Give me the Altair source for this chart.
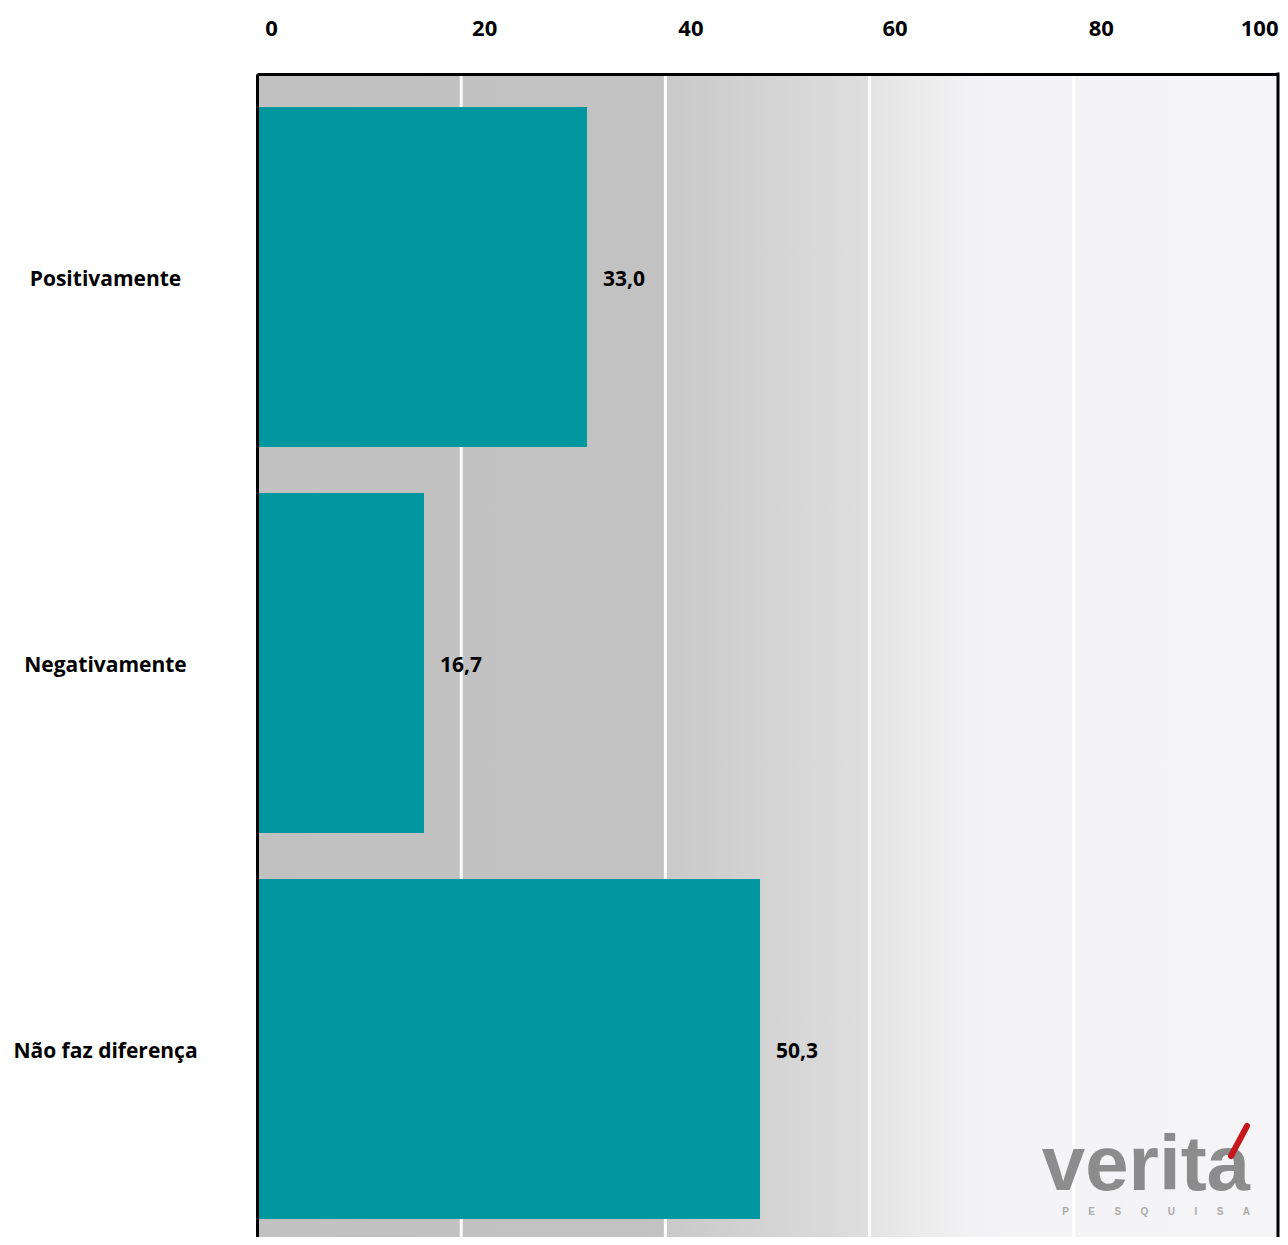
import altair as alt
import pandas as pd

categories = ["Positivamente", "Negativamente", "Não faz diferença"]
values = [33.0, 16.7, 50.3]
tick_values = [0, 20, 40, 60, 80, 100]
grid_values = [20, 40, 60, 80]

W = 1021
H = 1163
FONT = "Open Sans"

bars_df = pd.DataFrame({
    "cat": categories,
    "value": values,
    "label": [f"{v:.1f}".replace(".", ",") for v in values],
})
grid_df = pd.DataFrame({"g": grid_values})
one = pd.DataFrame({"a": [0]})

bg = alt.Chart(one).mark_rect(
    color=alt.Gradient(
        gradient="linear",
        x1=0, x2=1, y1=0, y2=0,
        stops=[
            alt.GradientStop(offset=0.0, color="#c1c1c1"),
            alt.GradientStop(offset=0.399, color="#c2c2c2"),
            alt.GradientStop(offset=0.401, color="#c9c9c9"),
            alt.GradientStop(offset=0.599, color="#dedede"),
            alt.GradientStop(offset=0.601, color="#e4e4e4"),
            alt.GradientStop(offset=0.70, color="#f2f2f4"),
            alt.GradientStop(offset=0.75, color="#f4f4f6"),
            alt.GradientStop(offset=1.0, color="#f5f5f7"),
        ],
    )
).encode(x=alt.value(0), x2=alt.value(W), y=alt.value(0), y2=alt.value(H))

grid = alt.Chart(grid_df).mark_rule(color="white", strokeWidth=3).encode(
    x=alt.X(
        "g:Q",
        scale=alt.Scale(domain=[0, 100], nice=False, zero=True),
        axis=alt.Axis(
            orient="top",
            values=tick_values,
            title=None,
            grid=False,
            ticks=False,
            tickSize=0,
            domain=True,
            domainColor="black",
            domainWidth=3,
            labelFont=FONT,
            labelFontSize=22,
            labelFontWeight="bold",
            labelColor="black",
            labelPadding=39,
            labelBaseline="alphabetic",
            labelFlush=False,
            labelAlign={"condition": {"test": "datum.value == 100", "value": "right"}, "value": "center"},
            labelOffset={"condition": [
                {"test": "datum.value == 0", "value": 14},
                {"test": "datum.value == 20", "value": 23},
                {"test": "datum.value == 80", "value": 27},
                {"test": "datum.value == 100", "value": 0},
            ], "value": 25},
            zindex=1,
        ),
    ),
    y=alt.value(0),
    y2=alt.value(H),
)

yenc = alt.Y(
    "cat:N",
    sort=categories,
    scale=alt.Scale(paddingInner=0.119, paddingOuter=0.066, align=0.647),
    axis=alt.Axis(
        title=None,
        ticks=False,
        domain=True,
        domainColor="black",
        domainWidth=3,
        labelFont=FONT,
        labelFontSize=21,
        labelFontWeight="bold",
        labelColor="black",
        labelAlign="center",
        labelBaseline="middle",
        labelPadding=152,
        labelOffset=3,
        labelLimit=400,
        zindex=1,
    ),
)

xbar = alt.X("value:Q", scale=alt.Scale(domain=[0, 102.1], nice=False), axis=None)

bars = alt.Chart(bars_df).mark_bar(color="#00989e").encode(
    x=xbar,
    y=yenc,
)

labels = alt.Chart(bars_df).mark_text(
    align="left", baseline="middle", dx=16, dy=3,
    font=FONT, fontSize=21, fontWeight="bold", color="black",
).encode(
    x=xbar,
    y=alt.Y("cat:N", sort=categories),
    text="label:N",
)

right_border = alt.Chart(one).mark_rule(color="black", strokeWidth=3).encode(
    x=alt.value(W), y=alt.value(-1.5), y2=alt.value(H)
)

logo = alt.Chart(one).mark_text(
    text="verita", align="right", baseline="alphabetic",
    font="Liberation Sans", fontSize=78, fontWeight="bold", color="#8c8c8c",
).encode(x=alt.value(993), y=alt.value(1116))

logo_accent = alt.Chart(one).mark_rule(color="#c8161d", strokeWidth=6, strokeCap="round").encode(
    x=alt.value(974), x2=alt.value(990), y=alt.value(1082), y2=alt.value(1052)
)

NB = "\u00a0" * 7
logo_sub = alt.Chart(one).mark_text(
    text=NB.join(list("PESQUISA")),
    align="right", baseline="middle",
    font="Liberation Sans", fontSize=10, fontWeight="bold", color="#aaaaaa",
).encode(x=alt.value(993), y=alt.value(1138))

chart = alt.layer(
    bg, grid, bars, labels, right_border, logo, logo_accent, logo_sub
).resolve_scale(x="independent").properties(
    width=W,
    height=H,
    autosize=alt.AutoSizeParams(type="none"),
    padding={"left": 249, "top": 66, "right": 2, "bottom": 0},
).configure_view(strokeWidth=0)

chart.save("out.html", embed_options={"renderer": "svg", "actions": False})
